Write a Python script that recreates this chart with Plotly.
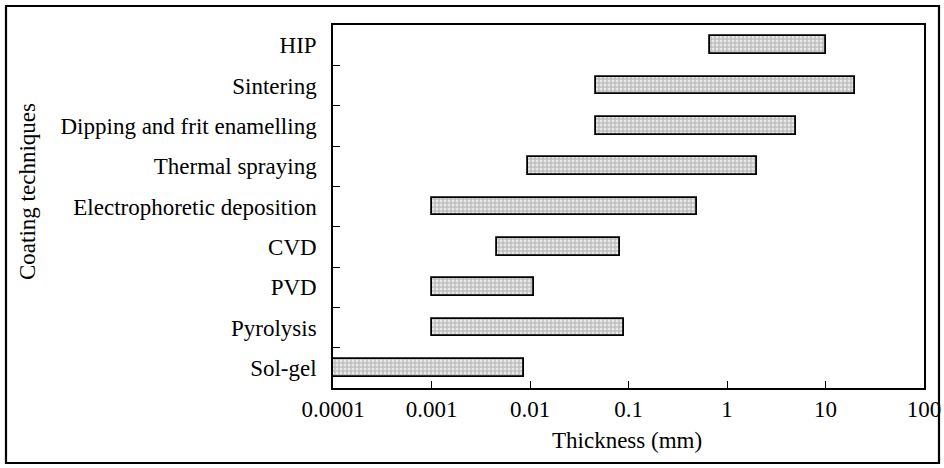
import plotly.graph_objects as go

techniques = ["HIP", "Sintering", "Dipping and frit enamelling", "Thermal spraying",
              "Electrophoretic deposition", "CVD", "PVD", "Pyrolysis", "Sol-gel"]
thickness_min = [0.67, 0.047, 0.047, 0.0095, 0.001, 0.0046, 0.001, 0.001, 0.0001]
thickness_max = [10.0, 20.0, 5.0, 2.0, 0.5, 0.082, 0.011, 0.09, 0.0087]
tick_values = [0.0001, 0.001, 0.01, 0.1, 1, 10, 100]
tick_labels = ["0.0001", "0.001", "0.01", "0.1", "1", "10", "100"]

FONT = "Liberation Serif"
FS = 23
W, H = 944, 468
PL, PR, PT, PB = 333, 924, 25, 388
L, R, T, B = PL, W - PR, PT, H - PB
pw, ph = PR - PL, PB - PT

def px_x(p):
    return (p - PL) / pw

def px_y(p):
    return (PB - p) / ph

lengths = [hi - lo for lo, hi in zip(thickness_min, thickness_max)]

fig = go.Figure()
fig.add_trace(go.Bar(
    y=techniques,
    x=lengths,
    base=thickness_min,
    orientation="h",
    width=0.44,
    marker=dict(
        color="#dcdcdc",
        line=dict(color="black", width=1.8),
        pattern=dict(shape="+", size=4, solidity=0.45,
                     fgcolor="#777777", bgcolor="#e8e8e8"),
    ),
    showlegend=False,
    hoverinfo="skip",
))

fig.update_layout(
    width=W, height=H,
    margin=dict(l=L, r=R, t=T, b=B, autoexpand=False),
    paper_bgcolor="white",
    plot_bgcolor="white",
    font=dict(family=FONT, size=FS, color="black"),
    bargap=0,
    xaxis=dict(
        type="log",
        range=[-4, 2],
        tickvals=tick_values,
        ticktext=tick_labels,
        ticks="inside",
        ticklen=7,
        tickwidth=1.2,
        tickcolor="black",
        showline=True,
        linecolor="black",
        linewidth=1.5,
        mirror=True,
        showgrid=False,
        zeroline=False,
        ticklabelstandoff=0,
        tickfont=dict(family=FONT, size=FS, color="black"),
    ),
    yaxis=dict(
        type="category",
        range=[8.5, -0.5],
        tickson="boundaries",
        ticks="inside",
        ticklen=7,
        tickwidth=1.2,
        tickcolor="black",
        showline=True,
        linecolor="black",
        linewidth=1.5,
        mirror=True,
        showgrid=False,
        zeroline=False,
        ticklabelstandoff=10,
        tickfont=dict(family=FONT, size=FS, color="black"),
    ),
    annotations=[
        dict(text="Thickness (mm)", xref="paper", yref="paper",
             x=px_x(627), y=px_y(440), xanchor="center", yanchor="middle",
             showarrow=False, font=dict(family=FONT, size=FS, color="black")),
        dict(text="Coating techniques", xref="paper", yref="paper",
             x=px_x(27), y=px_y(192), xanchor="center", yanchor="middle",
             textangle=-90, showarrow=False,
             font=dict(family=FONT, size=FS, color="black")),
    ],
    shapes=[
        dict(type="rect", xref="paper", yref="paper",
             x0=px_x(6), x1=px_x(939), y0=px_y(463), y1=px_y(6),
             line=dict(color="black", width=2.2), fillcolor="rgba(0,0,0,0)",
             layer="below"),
    ],
)

fig.write_html(
    "out.html",
    config={"displayModeBar": False},
    post_script="document.body.style.margin='0';document.body.style.overflow='hidden';",
)
